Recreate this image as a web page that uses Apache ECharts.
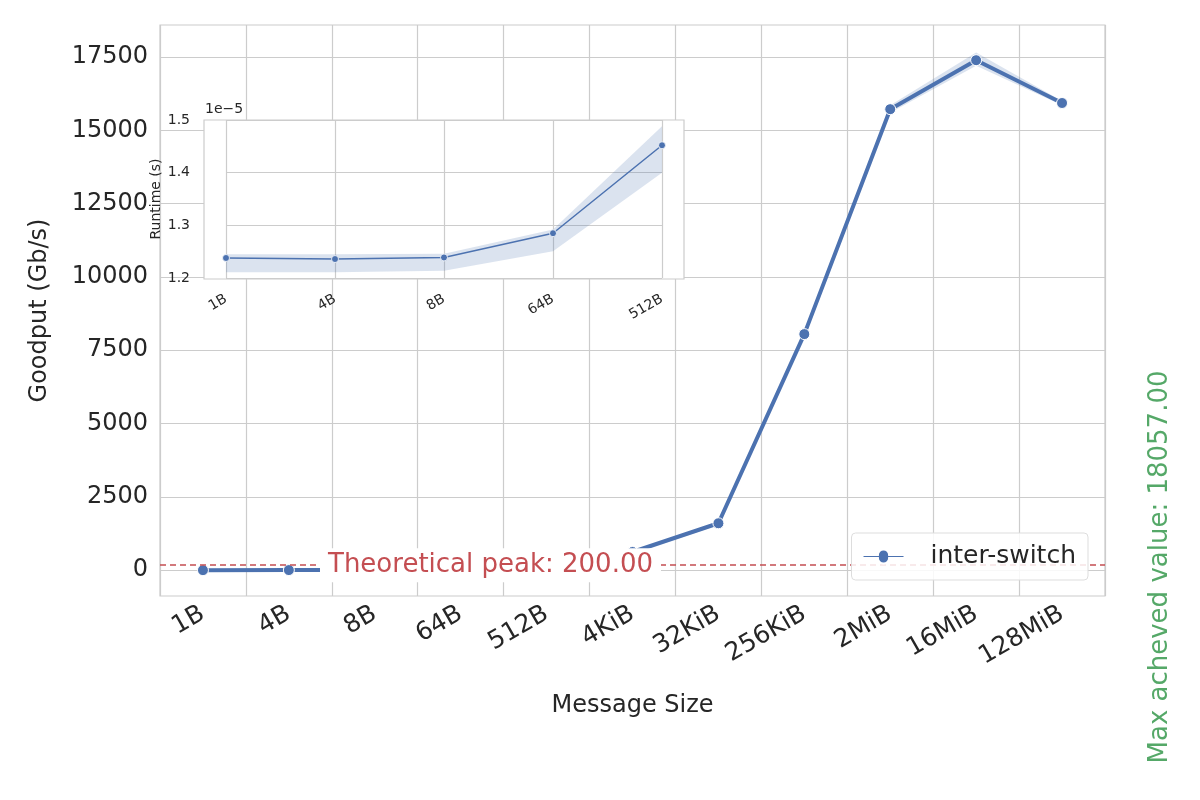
<!DOCTYPE html>
<html lang="en" style="height: 100%">
<head>
  <meta charset="utf-8">
</head>
<body style="height: 100%; margin: 0; background: #fff">
  <div id="container" style="width: 1200px; height: 800px"></div>
  <script type="text/javascript" src="https://cdn.jsdelivr.net/npm/echarts@6/dist/echarts.min.js"></script>
  <script type="text/javascript">
    // main chart data
    var sizes = ['1B', '4B', '8B', '64B', '512B', '4KiB', '32KiB', '256KiB', '2MiB', '16MiB', '128MiB'];
    var goodput = [1, 4, 8, 60, 110, 620, 1600, 8050, 15720, 17390, 15930];
    var goodputLow = [0, 3, 6, 55, 100, 580, 1540, 7980, 15600, 17200, 15850];
    var goodputHigh = [2, 5, 10, 65, 120, 660, 1660, 8120, 15850, 17650, 16000];
    var goodputTicks = [0, 2500, 5000, 7500, 10000, 12500, 15000, 17500];

    // inset data (runtime, x1e-5 s)
    var insetSizes = ['1B', '4B', '8B', '64B', '512B'];
    var runtime = [1.238, 1.236, 1.239, 1.285, 1.452];
    var runtimeLow = [1.211, 1.211, 1.214, 1.251, 1.400];
    var runtimeHigh = [1.245, 1.245, 1.246, 1.292, 1.488];

    var peak = 200;
    var maxAchieved = 18057;

    var blue = '#4c72b0';
    var font = 'DejaVu Sans';

    function diff(hi, lo) { return hi.map((v, i) => v - lo[i]); }

    var myChart = echarts.init(document.getElementById('container'), null, { renderer: 'canvas' });

    var option = {
      animation: false,
      textStyle: { fontFamily: font },
      grid: [
        { left: 160, right: 95, top: 25, bottom: 204, show: true, borderColor: '#cccccc', borderWidth: 1.2 },
        { left: 226, width: 436, top: 120, height: 158 }
      ],
      graphic: [
        { type: 'rect', z: 3, shape: { x: 204, y: 120, width: 480, height: 159 },
          style: { fill: '#fff', stroke: '#cccccc', lineWidth: 1.2 } },
        { type: 'text', z: 10, left: 205, top: 102, style: { text: '1e\u22125', font: '14px "DejaVu Sans"', fill: '#262626' } },
        { type: 'text', z: 10, x: 1160, y: 567, rotation: Math.PI / 2,
          style: { text: 'Max acheved value: ' + maxAchieved.toFixed(2), font: '26px "DejaVu Sans"', fill: '#55a868',
                   align: 'center', verticalAlign: 'middle' } }
      ],
      legend: {
        data: [{ name: 'inter-switch', icon: 'path://M0,5 L11,5 A4,4 0 1,1 19,5 L30,5 L30,7 L19,7 A4,4 0 1,1 11,7 L0,7 Z' }],
        right: 112, top: 533,
        padding: [11, 12, 11, 10],
        borderColor: '#dddddd', borderWidth: 1, borderRadius: 4, backgroundColor: 'rgba(255,255,255,0.85)',
        itemWidth: 56, itemGap: 10, itemHeight: 14,
        textStyle: { fontSize: 25, color: '#262626', fontFamily: font, padding: [0, 0, 0, 14] },
        z: 20
      },
      xAxis: [
        {
          gridIndex: 0, type: 'category', data: sizes, boundaryGap: true,
          name: 'Message Size', nameLocation: 'middle', nameGap: 98,
          nameTextStyle: { fontSize: 24, color: '#262626' },
          axisLine: { show: false }, axisTick: { show: false, alignWithLabel: true },
          axisLabel: { rotate: 30, fontSize: 25, color: '#262626', margin: 16, interval: 0 },
          splitLine: { show: true, interval: 0, lineStyle: { color: '#cccccc', width: 1.2 } }
        },
        {
          gridIndex: 1, type: 'category', data: insetSizes, boundaryGap: false,
          axisLine: { show: false }, axisTick: { show: false },
          axisLabel: { rotate: 30, fontSize: 14, color: '#262626', margin: 20, interval: 0 },
          splitLine: { show: true, interval: 0, lineStyle: { color: '#cccccc', width: 1.2 } },
          z: 5
        }
      ],
      yAxis: [
        {
          gridIndex: 0, type: 'value', min: -880, max: 18590,
          name: 'Goodput (Gb/s)', nameLocation: 'middle', nameGap: 108,
          nameTextStyle: { fontSize: 24, color: '#262626' },
          axisLine: { show: false }, axisTick: { show: false, customValues: goodputTicks },
          axisLabel: { fontSize: 24, color: '#262626', margin: 12, customValues: goodputTicks, formatter: v => String(v) },
          splitLine: { lineStyle: { color: '#cccccc', width: 1.2 } }
        },
        {
          gridIndex: 1, type: 'value', min: 1.2, max: 1.5, interval: 0.1,
          name: 'Runtime (s)', nameLocation: 'middle', nameGap: 62,
          nameTextStyle: { fontSize: 14, color: '#262626' },
          axisLine: { show: false }, axisTick: { show: false },
          axisLabel: { fontSize: 14, color: '#262626', margin: 36, formatter: v => v.toFixed(1) },
          splitLine: { lineStyle: { color: '#cccccc', width: 1.2 } },
          z: 5
        }
      ],
      series: [
        { type: 'line', xAxisIndex: 0, yAxisIndex: 0, data: goodputLow, stack: 'band', symbol: 'none',
          lineStyle: { opacity: 0 }, silent: true },
        { type: 'line', xAxisIndex: 0, yAxisIndex: 0, data: diff(goodputHigh, goodputLow), stack: 'band', symbol: 'none',
          lineStyle: { opacity: 0 }, areaStyle: { color: blue, opacity: 0.2 }, silent: true },
        {
          name: 'inter-switch', type: 'line', xAxisIndex: 0, yAxisIndex: 0, data: goodput,
          symbol: 'circle', symbolSize: 11, itemStyle: { color: blue, borderColor: '#fff', borderWidth: 1 },
          lineStyle: { color: blue, width: 4 },
          markLine: {
            silent: true, symbol: 'none',
            lineStyle: { color: '#c44e52', type: [6, 4], width: 1.5 },
            label: {
              position: 'middle', formatter: 'Theoretical peak: ' + peak.toFixed(2),
              fontSize: 26, color: '#c44e52', backgroundColor: '#fff', padding: [4, 8],
              offset: [-142, 23], fontFamily: font
            },
            data: [{ yAxis: peak }]
          }
        },
        { type: 'line', xAxisIndex: 1, yAxisIndex: 1, data: runtimeLow, stack: 'iband', symbol: 'none',
          lineStyle: { opacity: 0 }, silent: true, z: 6 },
        { type: 'line', xAxisIndex: 1, yAxisIndex: 1, data: diff(runtimeHigh, runtimeLow), stack: 'iband', symbol: 'none',
          lineStyle: { opacity: 0 }, areaStyle: { color: blue, opacity: 0.2 }, silent: true, z: 6 },
        {
          type: 'line', xAxisIndex: 1, yAxisIndex: 1, data: runtime, z: 7,
          symbol: 'circle', symbolSize: 7, itemStyle: { color: blue, borderColor: '#fff', borderWidth: 0.8 },
          lineStyle: { color: blue, width: 1.5 }
        }
      ]
    };

    myChart.setOption(option);
  </script>
</body>
</html>
